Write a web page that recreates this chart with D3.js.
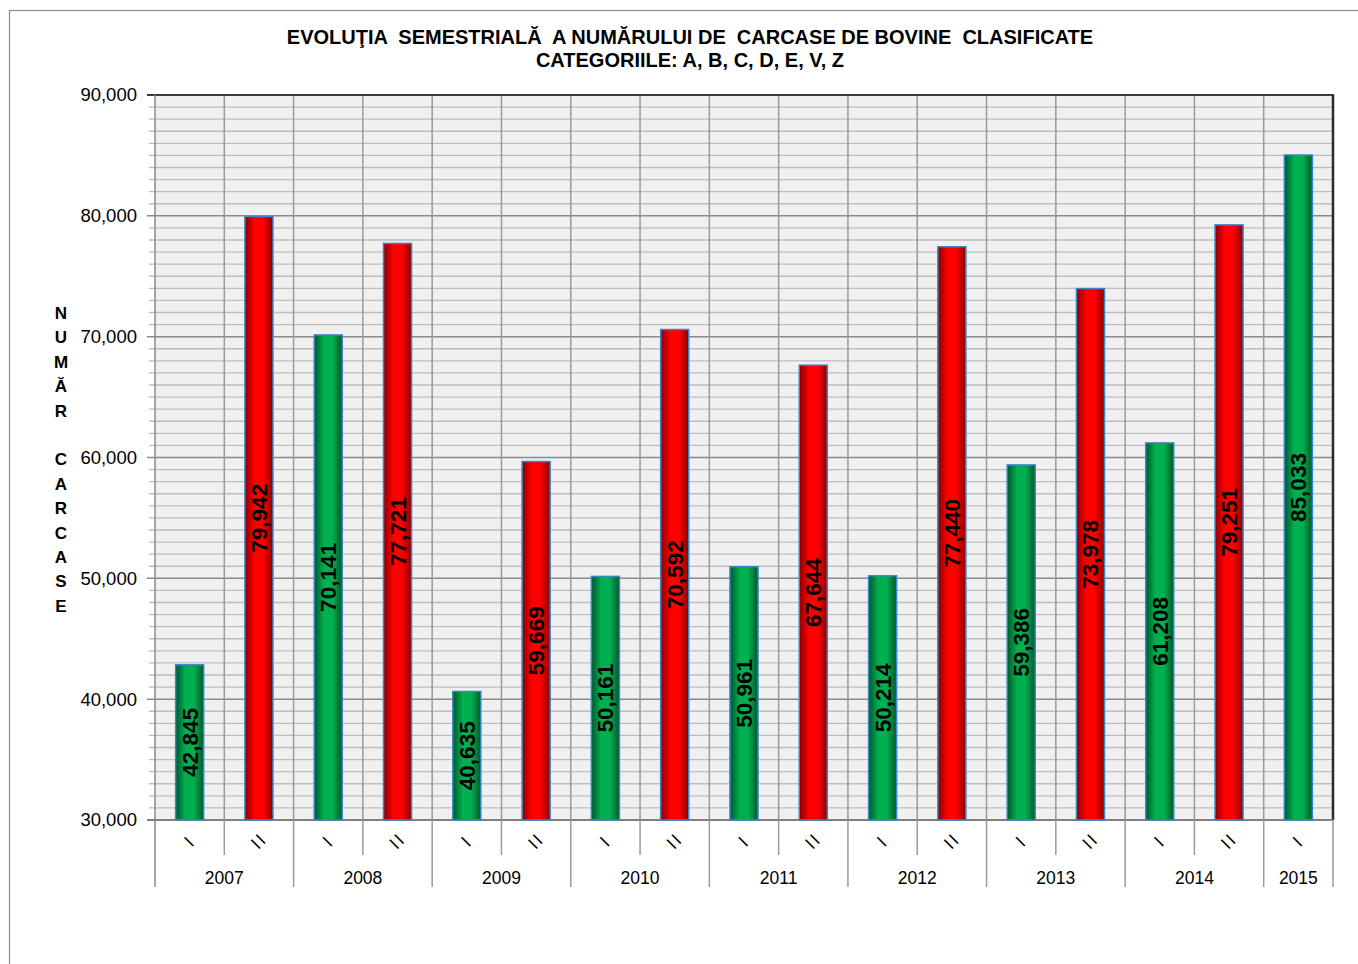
<!DOCTYPE html>
<html><head><meta charset="utf-8">
<script src="https://cdn.jsdelivr.net/npm/d3@7"></script>
<style>body{margin:0;background:#fff}svg{display:block;font-family:"Liberation Sans",Arial,sans-serif}</style>
</head><body>
<svg id="c" width="1358" height="964"></svg>
<script>
const periodYears = ["2007","2007","2008","2008","2009","2009","2010","2010","2011","2011","2012","2012","2013","2013","2014","2014","2015"];
const semesters = ["I","II","I","II","I","II","I","II","I","II","I","II","I","II","I","II","I"];
const values = [42845,79942,70141,77721,40635,59669,50161,70592,50961,67644,50214,77440,59386,73978,61208,79251,85033];
const yearLabels = ["2007","2008","2009","2010","2011","2012","2013","2014","2015"];
const yTicks = [30000,40000,50000,60000,70000,80000,90000];
const titleLines = ["EVOLUŢIA  SEMESTRIALĂ  A NUMĂRULUI DE  CARCASE DE BOVINE  CLASIFICATE","CATEGORIILE: A, B, C, D, E, V, Z"];
const axisTitle = ["N","U","M","Ă","R","","C","A","R","C","A","S","E"];

const svg = d3.select("#c");
const L=155,R=1333,T=95,B=820;
const keys = values.map((v,i)=>i);
const x = d3.scaleBand().domain(keys).range([L,R]).padding(0);
const y = d3.scaleLinear().domain([30000,90000]).range([B,T]);

svg.append("rect").attr("x",9.5).attr("y",10.5).attr("width",1400).attr("height",1000).attr("fill","none").attr("stroke","#8c8c8c").attr("stroke-width",1.2);

const defs = svg.append("defs");
function grad(id, dark, mid){
  const g = defs.append("linearGradient").attr("id",id).attr("x1","0").attr("x2","1").attr("y1","0").attr("y2","0");
  g.append("stop").attr("offset","0%").attr("stop-color",dark);
  g.append("stop").attr("offset","35%").attr("stop-color",mid);
  g.append("stop").attr("offset","65%").attr("stop-color",mid);
  g.append("stop").attr("offset","100%").attr("stop-color",dark);
}
grad("gGreen","#00572a","#00b050");
grad("gRed","#8a0000","#ff0000");

svg.append("rect").attr("x",L).attr("y",T).attr("width",R-L).attr("height",B-T).attr("fill","#f0f0f0");

const minor = d3.range(31000,90000,1000).filter(v=>v%10000!==0);
svg.append("g").selectAll("line").data(minor).join("line")
  .attr("x1",L-6).attr("x2",R).attr("y1",d=>y(d)).attr("y2",d=>y(d))
  .attr("stroke","#bdbdbd").attr("stroke-width",1.3);
svg.append("g").selectAll("line").data(yTicks.slice(1,-1)).join("line")
  .attr("x1",L-8).attr("x2",R).attr("y1",d=>y(d)).attr("y2",d=>y(d))
  .attr("stroke","#8a8a8a").attr("stroke-width",1.5);
svg.append("g").selectAll("line").data(keys.slice(1)).join("line")
  .attr("x1",d=>x(d)).attr("x2",d=>x(d)).attr("y1",T).attr("y2",B)
  .attr("stroke","#9a9a9a").attr("stroke-width",1.5);

svg.append("line").attr("x1",L-8).attr("x2",R+1).attr("y1",T).attr("y2",T).attr("stroke","#3a3a3a").attr("stroke-width",2);
svg.append("line").attr("x1",R).attr("x2",R).attr("y1",T).attr("y2",B).attr("stroke","#2a2a2a").attr("stroke-width",2.5);
svg.append("line").attr("x1",L).attr("x2",L).attr("y1",T).attr("y2",887).attr("stroke","#8a8a8a").attr("stroke-width",1.5);
svg.append("line").attr("x1",L-8).attr("x2",R).attr("y1",B).attr("y2",B).attr("stroke","#808080").attr("stroke-width",2);

const yAxis = d3.axisLeft(y).tickValues(yTicks).tickFormat(d3.format(",")).tickSize(0).tickPadding(18);
const ya = svg.append("g").attr("transform",`translate(${L},0)`).call(yAxis);
ya.select(".domain").remove();
ya.selectAll("text").attr("font-size",18.5).attr("fill","#000").attr("font-family","Liberation Sans, Arial, sans-serif");

const bw = x.bandwidth()*0.405;
svg.append("g").selectAll("rect").data(keys).join("rect")
  .attr("x",d=>x(d)+x.bandwidth()/2-bw/2).attr("width",bw)
  .attr("y",d=>y(values[d])).attr("height",d=>B-y(values[d]))
  .attr("fill",d=>semesters[d]==="I"?"url(#gGreen)":"url(#gRed)")
  .attr("stroke","#3a86c8").attr("stroke-width",1.5);

svg.append("g").selectAll("text").data(keys).join("text")
  .attr("transform",d=>`translate(${x(d)+x.bandwidth()/2+8},${(y(values[d])+B)/2}) rotate(-90)`)
  .attr("text-anchor","middle").attr("font-size",22.5).attr("font-weight","bold").attr("fill","#000")
  .text(d=>d3.format(",")(values[d]));

svg.append("g").selectAll("text").data(keys).join("text")
  .attr("transform",d=>`translate(${x(d)+x.bandwidth()/2},${841}) rotate(-45)`)
  .attr("text-anchor","middle").attr("font-size",18).attr("fill","#000")
  .attr("dominant-baseline","central").attr("letter-spacing",2)
  .text(d=>semesters[d]);

svg.append("g").selectAll("line").data(keys.slice(1)).join("line")
  .attr("x1",d=>x(d)).attr("x2",d=>x(d)).attr("y1",B)
  .attr("y2",d=>periodYears[d]!==periodYears[d-1]?887:855)
  .attr("stroke","#9a9a9a").attr("stroke-width",1.5);
svg.append("line").attr("x1",R).attr("x2",R).attr("y1",B).attr("y2",887).attr("stroke","#9a9a9a").attr("stroke-width",1.5);

svg.append("g").selectAll("text").data(yearLabels).join("text")
  .attr("x",yr=>{const idx=keys.filter(k=>periodYears[k]===yr);return (x(idx[0])+x(idx[idx.length-1])+x.bandwidth())/2;})
  .attr("y",884).attr("text-anchor","middle").attr("font-size",17.5).attr("fill","#000")
  .text(d=>d);

svg.append("g").selectAll("text").data(titleLines).join("text")
  .attr("x",690).attr("y",(d,i)=>44+i*23).attr("text-anchor","middle")
  .attr("font-size",20).attr("font-weight","bold").style("white-space","pre").attr("xml:space","preserve")
  .text(d=>d);

svg.append("g").selectAll("text").data(axisTitle).join("text")
  .attr("x",61).attr("y",(d,i)=>319+i*24.4).attr("text-anchor","middle")
  .attr("font-size",17).attr("font-weight","bold").text(d=>d);
</script>
</body></html>
